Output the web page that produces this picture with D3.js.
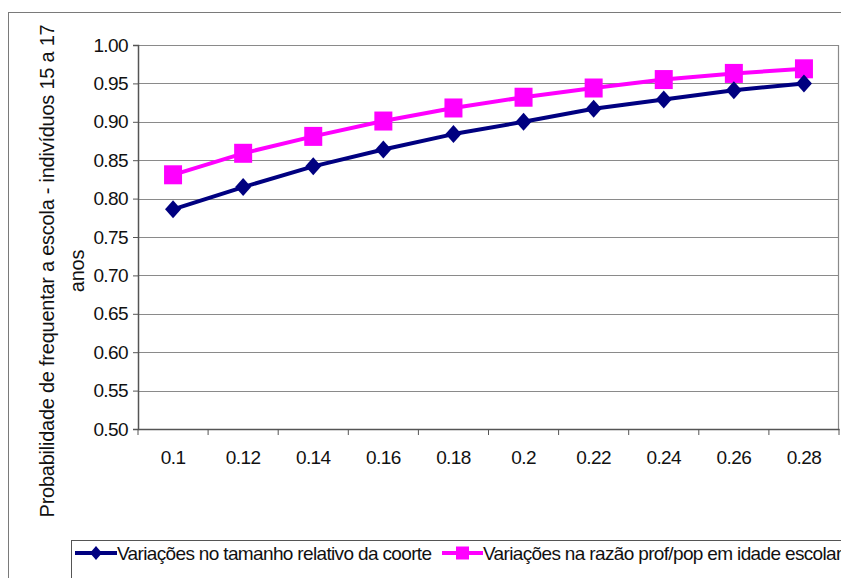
<!DOCTYPE html>
<html>
<head>
<meta charset="utf-8">
<script src="https://cdn.jsdelivr.net/npm/d3@7"></script>
<style>
  html, body { margin: 0; padding: 0; background: #fff; }
  svg { display: block; font-family: "Liberation Sans", Arial, sans-serif; }
</style>
</head>
<body>
<svg id="chart" width="841" height="578"></svg>
<script>
const categories = ["0.1", "0.12", "0.14", "0.16", "0.18", "0.2", "0.22", "0.24", "0.26", "0.28"];
const cohortValues = [0.786, 0.815, 0.842, 0.864, 0.884, 0.900, 0.917, 0.929, 0.941, 0.950];
const ratioValues  = [0.831, 0.859, 0.881, 0.901, 0.918, 0.932, 0.944, 0.955, 0.963, 0.969];
const yTicks = [0.50, 0.55, 0.60, 0.65, 0.70, 0.75, 0.80, 0.85, 0.90, 0.95, 1.00];
const seriesNames = ["Variações no tamanho relativo da coorte", "Variações na razão prof/pop em idade escolar"];
const yTitleLines = ["Probabilidade de frequentar a escola - indivíduos 15 a 17", "anos"];

const svg = d3.select("#chart");
const W = 841, H = 578;
const plot = { left: 138, right: 839, top: 45, bottom: 429 };

// outer chart border
svg.append("rect").attr("x", 8.5).attr("y", 12.5).attr("width", W).attr("height", H)
  .attr("fill", "#fff").attr("stroke", "#7a7a7a").attr("stroke-width", 1);

const x = d3.scaleBand().domain(categories).range([plot.left, plot.right]).padding(0);
const y = d3.scaleLinear().domain([0.5, 1.0]).range([plot.bottom, plot.top]);

// gridlines
svg.append("g").selectAll("line").data(yTicks.filter(t => t > 0.5)).join("line")
  .attr("x1", plot.left).attr("x2", plot.right)
  .attr("y1", d => Math.round(y(d)) + 0.5).attr("y2", d => Math.round(y(d)) + 0.5)
  .attr("stroke", "#8a8a8a").attr("stroke-width", 1.2);

// plot area right border
svg.append("line").attr("x1", plot.right - 0.5).attr("x2", plot.right - 0.5)
  .attr("y1", plot.top).attr("y2", plot.bottom).attr("stroke", "#8a8a8a").attr("stroke-width", 1.2);

const tickFont = (sel) => sel.attr("font-size", 19).attr("fill", "#111").attr("letter-spacing", -0.6)
  .attr("font-family", "'Liberation Sans', Arial, sans-serif");

// y axis
const yAxis = d3.axisLeft(y).tickValues(yTicks).tickFormat(d3.format(".2f")).tickSize(5).tickPadding(5);
const gy = svg.append("g").attr("transform", `translate(${plot.left},0)`).call(yAxis);
gy.select(".domain").attr("stroke", "#555").attr("stroke-width", 1.5);
gy.selectAll(".tick line").attr("stroke", "#555");
gy.selectAll(".tick text").call(tickFont);

// x axis
const xAxis = d3.axisBottom(x).tickSize(0).tickPadding(22);
const gx = svg.append("g").attr("transform", `translate(0,${plot.bottom})`).call(xAxis);
gx.select(".domain").attr("stroke", "#555").attr("stroke-width", 1.5);
gx.selectAll(".tick text").call(tickFont);
// tick marks at category boundaries
const bounds = categories.map(c => x(c)).concat([x(categories[categories.length - 1]) + x.bandwidth()]);
gx.append("g").selectAll("line").data(bounds).join("line")
  .attr("x1", d => d).attr("x2", d => d).attr("y1", 0).attr("y2", 6)
  .attr("stroke", "#555").attr("stroke-width", 1);

// y title (two centered lines)
const yt = svg.append("text")
  .attr("transform", "translate(47,271) rotate(-90)")
  .attr("text-anchor", "middle").attr("font-size", 20).attr("fill", "#111").attr("letter-spacing", -0.25);
yt.selectAll("tspan").data(yTitleLines).join("tspan")
  .attr("x", 0).attr("dy", (d, i) => i === 0 ? "0.35em" : "1.5em").text(d => d);

const cx = c => x(c) + x.bandwidth() / 2;
const line = d3.line().x((d, i) => cx(categories[i])).y(d => y(d));

// series: ratio (magenta squares)
svg.append("path").datum(ratioValues).attr("d", line).attr("fill", "none")
  .attr("stroke", "#ff00ff").attr("stroke-width", 4).attr("stroke-linejoin", "round");
svg.append("g").selectAll("rect").data(ratioValues).join("rect")
  .attr("x", (d, i) => cx(categories[i]) - 9).attr("y", d => y(d) - 9.5)
  .attr("width", 18).attr("height", 19).attr("fill", "#ff00ff");

// series: cohort (navy diamonds)
svg.append("path").datum(cohortValues).attr("d", line).attr("fill", "none")
  .attr("stroke", "#000080").attr("stroke-width", 4).attr("stroke-linejoin", "round");
const diamond = (cxp, cyp, w, h) => `M${cxp},${cyp - h}L${cxp + w},${cyp}L${cxp},${cyp + h}L${cxp - w},${cyp}Z`;
svg.append("g").selectAll("path").data(cohortValues).join("path")
  .attr("d", (d, i) => diamond(cx(categories[i]), y(d), 8, 9)).attr("fill", "#000080");

// legend
const lg = svg.append("g");
lg.append("rect").attr("x", 71.5).attr("y", 540.5).attr("width", 900).attr("height", 60)
  .attr("fill", "#fff").attr("stroke", "#555").attr("stroke-width", 1);
const ly = 553;
const legFont = (sel) => sel.attr("font-size", 19).attr("letter-spacing", -0.65).attr("fill", "#111");
// item 1
lg.append("line").attr("x1", 75).attr("x2", 117).attr("y1", ly).attr("y2", ly)
  .attr("stroke", "#000080").attr("stroke-width", 4);
lg.append("path").attr("d", diamond(96, ly, 6, 7)).attr("fill", "#000080");
lg.append("text").attr("x", 117).attr("y", ly).attr("dy", "0.35em").call(legFont).text(seriesNames[0]);
// item 2
lg.append("line").attr("x1", 442).attr("x2", 483).attr("y1", ly).attr("y2", ly)
  .attr("stroke", "#ff00ff").attr("stroke-width", 4);
lg.append("rect").attr("x", 456).attr("y", ly - 6.5).attr("width", 13).attr("height", 13).attr("fill", "#ff00ff");
lg.append("text").attr("x", 483).attr("y", ly).attr("dy", "0.35em").call(legFont).text(seriesNames[1]);
</script>
</body>
</html>
